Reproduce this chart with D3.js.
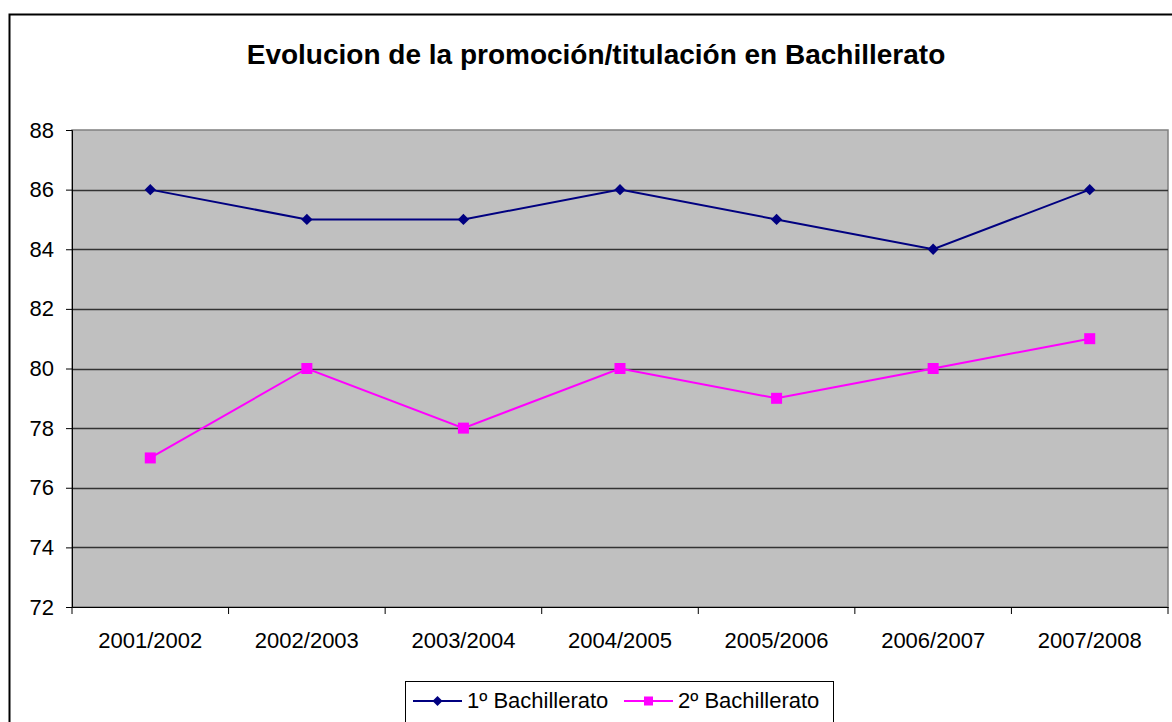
<!DOCTYPE html>
<html><head><meta charset="utf-8">
<script src="https://cdn.jsdelivr.net/npm/d3@7"></script>
<style>body{margin:0;background:#fff}svg{display:block}text{font-family:"Liberation Sans",Arial,sans-serif}</style>
</head><body><svg id="c" width="1172" height="722"></svg>
<script>
const categories = ["2001/2002","2002/2003","2003/2004","2004/2005","2005/2006","2006/2007","2007/2008"];
const serie1 = [86,85,85,86,85,84,86];
const serie2 = [77,80,78,80,79,80,81];
const seriesNames = ["1º Bachillerato","2º Bachillerato"];
const yTicks = [72,74,76,78,80,82,84,86,88];
const title = "Evolucion de la promoción/titulación en Bachillerato";

const svg = d3.select("#c");
svg.append("rect").attr("x",9.5).attr("y",14.5).attr("width",1300).attr("height",900)
  .attr("fill","#fff").attr("stroke","#000").attr("stroke-width",2);

const L=72,R=1168,T=130,B=607;
const x = d3.scaleBand().domain(categories).range([L,R]);
const y = d3.scaleLinear().domain([72,88]).range([B,T]);

svg.append("rect").attr("x",L).attr("y",T).attr("width",R-L).attr("height",B-T)
  .attr("fill","#c0c0c0").attr("stroke","#808080").attr("stroke-width",1.5);

svg.append("g").selectAll("line").data(yTicks.filter(d=>d>72&&d<88)).join("line")
  .attr("x1",L).attr("x2",R).attr("y1",d=>Math.round(y(d))+0.5).attr("y2",d=>Math.round(y(d))+0.5)
  .attr("stroke","#333").attr("stroke-width",1.3);

const ya = svg.append("g").attr("transform",`translate(${L},0)`)
  .call(d3.axisLeft(y).tickValues(yTicks).tickSize(6).tickPadding(12).tickFormat(d3.format("d")));
ya.select(".domain").attr("stroke","#000");
ya.selectAll("text").attr("font-size",22).attr("fill","#000").style("font-family","'Liberation Sans',Arial,sans-serif");

const xa = svg.append("g").attr("transform",`translate(0,${B})`)
  .call(d3.axisBottom(x).tickSize(0).tickPadding(0).tickFormat(""));
xa.select(".domain").attr("stroke","#000");
const edges = categories.map(c=>x(c)).concat([R]);
svg.append("g").selectAll("line").data(edges).join("line")
  .attr("x1",d=>d).attr("x2",d=>d).attr("y1",B).attr("y2",B+7).attr("stroke","#000");
svg.append("g").selectAll("text").data(categories).join("text")
  .attr("x",d=>x(d)+x.bandwidth()/2).attr("y",648).attr("text-anchor","middle")
  .attr("font-size",22).attr("fill","#000").text(d=>d);

const cx = c=>x(c)+x.bandwidth()/2;
const line = d3.line().x((d,i)=>cx(categories[i])).y(d=>y(d));
svg.append("path").datum(serie1).attr("d",line).attr("fill","none").attr("stroke","#000080").attr("stroke-width",2);
svg.append("path").datum(serie2).attr("d",line).attr("fill","none").attr("stroke","#ff00ff").attr("stroke-width",2);
svg.append("g").selectAll("path").data(serie1).join("path")
  .attr("transform",(d,i)=>`translate(${cx(categories[i])},${y(d)}) rotate(45)`)
  .attr("d",d3.symbol().type(d3.symbolSquare).size(64)).attr("fill","#000080");
svg.append("g").selectAll("rect").data(serie2).join("rect")
  .attr("x",(d,i)=>cx(categories[i])-5.5).attr("y",d=>y(d)-5.5).attr("width",11).attr("height",11)
  .attr("fill","#ff00ff");

svg.append("text").attr("x",596).attr("y",64).attr("text-anchor","middle")
  .attr("font-size",28).attr("font-weight","bold").attr("fill","#000").text(title);

// legend
svg.append("rect").attr("x",405.5).attr("y",681.5).attr("width",428).attr("height",50)
  .attr("fill","#fff").attr("stroke","#000").attr("stroke-width",1);
const lg = [{x1:413,x2:462,tx:467,c:"#000080",m:"d"},{x1:624,x2:673,tx:678,c:"#ff00ff",m:"s"}];
lg.forEach((o,i)=>{
  const my=701;
  svg.append("line").attr("x1",o.x1).attr("x2",o.x2).attr("y1",my).attr("y2",my).attr("stroke",o.c).attr("stroke-width",2);
  const mx=(o.x1+o.x2)/2;
  if(o.m==="d") svg.append("path").attr("transform",`translate(${mx},${my}) rotate(45)`).attr("d",d3.symbol().type(d3.symbolSquare).size(50)).attr("fill",o.c);
  else svg.append("rect").attr("x",mx-4.5).attr("y",my-4.5).attr("width",9).attr("height",9).attr("fill",o.c);
  svg.append("text").attr("x",o.tx).attr("y",708).attr("font-size",22).attr("fill","#000").text(seriesNames[i]);
});
</script></body></html>
